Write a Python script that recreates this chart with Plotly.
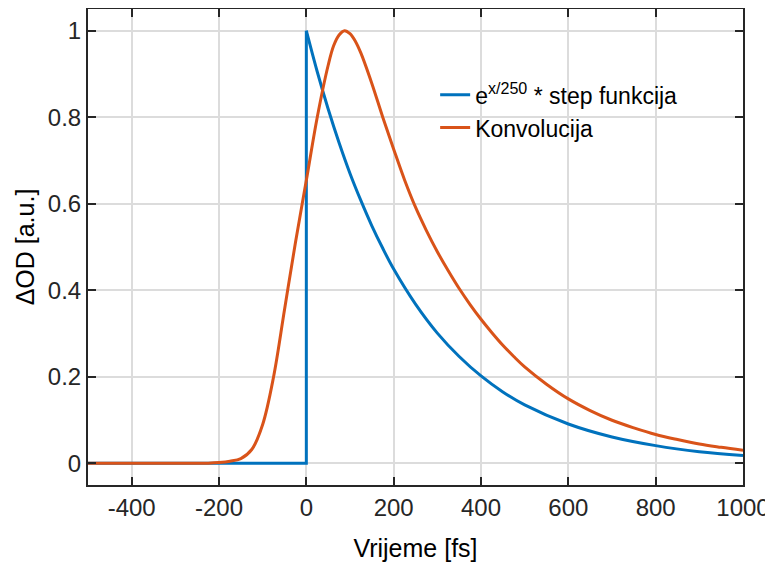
import plotly.graph_objects as go

# Blue: exponential decay times step function
step_x = [-500, 0, 0]
step_y = [0, 0, 1.0]
decay_x = [0, 25, 50, 75, 100, 125, 150, 175, 200, 250, 300, 350, 400,
           450, 500, 600, 700, 800, 900, 1000]
decay_y = [1.0, 0.905, 0.819, 0.741, 0.670, 0.607, 0.549, 0.497, 0.449,
           0.368, 0.301, 0.247, 0.202, 0.165, 0.135, 0.091, 0.061, 0.041, 0.027, 0.018]

# Orange: convolution
conv_x = [-500, -450, -400, -350, -300, -250, -225, -200, -175, -150, -125, -100,
          -75, -50, -25, 0, 25, 50, 62.5, 75, 87.5, 100, 112.5, 125, 150, 175, 200,
          225, 250, 275, 300, 325, 350, 375, 400, 425, 450, 475, 500, 550, 600,
          650, 700, 750, 800, 850, 900, 950, 1000]
conv_y = [0, 0, 0, 0, 0, 0, 0.0005, 0.002, 0.005, 0.011, 0.032, 0.09,
          0.2, 0.355, 0.51, 0.654, 0.80, 0.92, 0.965, 0.99, 1.0, 0.993, 0.975, 0.948,
          0.878, 0.80, 0.726, 0.655, 0.592, 0.538, 0.489, 0.445, 0.404, 0.367, 0.333,
          0.302, 0.273, 0.247, 0.223, 0.183, 0.149, 0.122, 0.0996, 0.082, 0.0667,
          0.055, 0.0447, 0.037, 0.030]

x_ticks = [-400, -200, 0, 200, 400, 600, 800, 1000]
x_labels = ["-400", "-200", "0", "200", "400", "600", "800", "1000"]
y_ticks = [0, 0.2, 0.4, 0.6, 0.8, 1]
y_labels = ["0", "0.2", "0.4", "0.6", "0.8", "1"]

BLUE = "#0072BD"
ORANGE = "#D95319"

fig = go.Figure()
fig.add_trace(go.Scatter(x=step_x, y=step_y, mode="lines", legendgroup="b",
                         showlegend=False, line=dict(color=BLUE, width=3)))
fig.add_trace(go.Scatter(x=decay_x, y=decay_y, mode="lines", legendgroup="b",
                         name="e<sup>x/250</sup> * step funkcija",
                         line=dict(color=BLUE, width=3, shape="spline", smoothing=1.0)))
fig.add_trace(go.Scatter(x=conv_x, y=conv_y, mode="lines", name="Konvolucija",
                         line=dict(color=ORANGE, width=3, shape="spline", smoothing=1.0)))

axis_common = dict(showline=True, linecolor="#262626", linewidth=2, mirror="ticks",
                   ticks="inside", ticklen=8, tickwidth=1.5, tickcolor="#262626",
                   showgrid=True, gridcolor="#DCDCDC", gridwidth=1.5, zeroline=False,
                   automargin=False, ticklabeloverflow="allow",
                   tickfont=dict(family="Liberation Sans", size=24, color="#262626"))

fig.update_layout(
    width=773, height=558,
    margin=dict(l=80, r=38, t=1, b=81),
    paper_bgcolor="white", plot_bgcolor="white",
    font=dict(family="Liberation Sans"),
    xaxis=dict(range=[-500, 1000], tickvals=x_ticks, ticktext=x_labels,
               title=dict(text="Vrijeme [fs]", font=dict(size=25, color="black"), standoff=20),
               **axis_common),
    yaxis=dict(range=[-0.05, 1.05], tickvals=y_ticks, ticktext=y_labels,
               title=dict(text="ΔOD [a.u.]", font=dict(size=25, color="black"), standoff=6),
               **axis_common),
    legend=dict(x=0.530, y=0.865, xanchor="left", yanchor="top",
                bgcolor="rgba(0,0,0,0)", borderwidth=0,
                font=dict(size=23, color="black"), itemwidth=30, tracegroupgap=0),
    showlegend=True,
)

fig.write_html("out.html")
